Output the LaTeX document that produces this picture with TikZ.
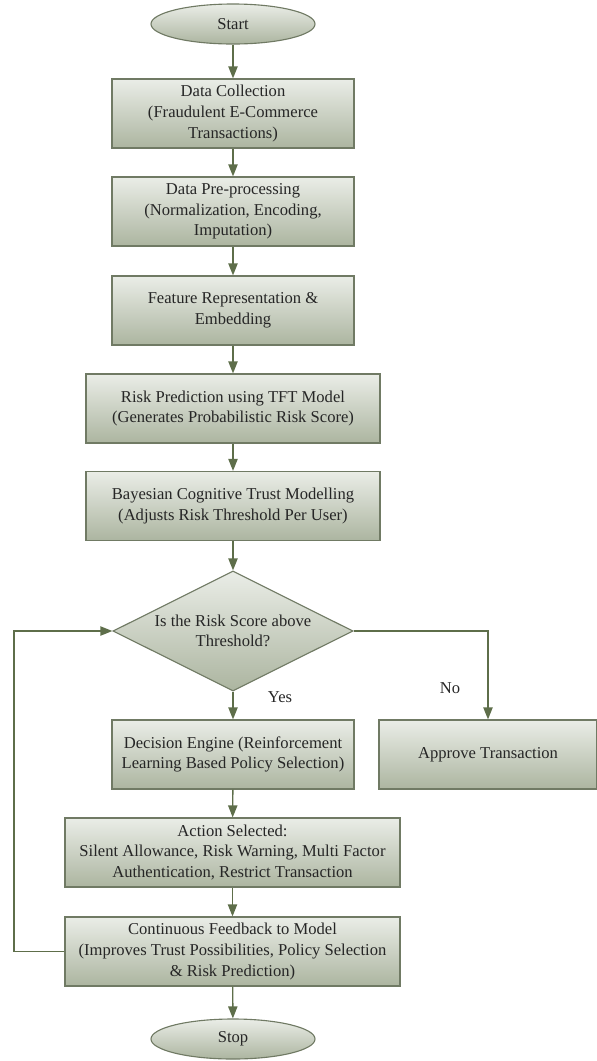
\documentclass[tikz,border=0pt]{standalone}
\usepackage{fontspec}
\setmainfont{Liberation Serif}
\usetikzlibrary{shapes.geometric,arrows.meta}

\definecolor{boxtop}{RGB}{234,237,231}
\definecolor{boxbot}{RGB}{172,181,160}
\definecolor{boxline}{RGB}{112,122,100}
\definecolor{flowline}{RGB}{94,110,74}

\begin{document}
\begin{tikzpicture}[x=0.025cm, y=-0.025cm,
  every node/.style={font=\fontsize{11.8}{14.6}\selectfont, text=black!85},
  procbox/.style={draw=boxline, line width=0.8pt, top color=boxtop, bottom color=boxbot,
    align=center, minimum height=1.725cm, inner sep=2pt},
  termin/.style={ellipse, draw=boxline, line width=0.8pt, top color=boxtop, bottom color=boxbot,
    minimum width=4.1cm, minimum height=1cm, inner sep=0pt},
  query/.style={diamond, aspect=2, draw=boxline, line width=0.8pt, top color=boxtop, bottom color=boxbot,
    minimum width=6cm, minimum height=3cm, inner sep=0pt, align=center},
  flow/.style={draw=flowline, line width=1pt, -{Triangle[length=3mm,width=2.3mm]}}]

\useasboundingbox (0,0) rectangle (597,1061);

\node [termin] (start) at (233,24) {Start};

\node [procbox, minimum width=6.05cm] (collect) at (233,113.5)
  {Data Collection\\(Fraudulent E-Commerce\\Transactions)};
\node [procbox, minimum width=6.05cm] (preproc) at (233,211.5)
  {Data Pre-processing\\(Normalization, Encoding,\\Imputation)};
\node [procbox, minimum width=6.05cm] (feature) at (233,310.5)
  {Feature Representation \&\\Embedding};
\node [procbox, minimum width=7.35cm] (riskpred) at (233,408.5)
  {Risk Prediction using TFT Model\\(Generates Probabilistic Risk Score)};
\node [procbox, minimum width=7.35cm] (trust) at (233,506)
  {Bayesian Cognitive Trust Modelling\\(Adjusts Risk Threshold Per User)};

\node [query] (check) at (233,631) {Is the Risk Score above\\Threshold?};

\node [procbox, minimum width=6.05cm] (decide) at (233,754.5)
  {Decision Engine (Reinforcement\\Learning Based Policy Selection)};
\node [procbox, minimum width=5.45cm] (approve) at (488,754.5) {Approve Transaction};
\node [procbox, minimum width=8.375cm] (action) at (232.5,852.5)
  {Action Selected:\\Silent Allowance, Risk Warning, Multi Factor\\Authentication, Restrict Transaction};
\node [procbox, minimum width=8.375cm] (feedback) at (232.5,951.5)
  {Continuous Feedback to Model\\(Improves Trust Possibilities, Policy Selection\\\& Risk Prediction)};

\node [termin] (stop) at (233,1039) {Stop};

\node (yes) at (280,697) {Yes};
\node (no) at (450,688) {No};

\coordinate (loop) at (14,951.5);

\draw [flow] (start) -- (collect);
\draw [flow] (collect) -- (preproc);
\draw [flow] (preproc) -- (feature);
\draw [flow] (feature) -- (riskpred);
\draw [flow] (riskpred) -- (trust);
\draw [flow] (trust) -- (check);
\draw [flow] (check) -- (decide);
\draw [flow] (check.east) -| (approve.north);
\draw [flow] (decide) -- (action);
\draw [flow] (action) -- (feedback);
\draw [flow] (feedback) -- (stop);
\draw [flow] (feedback.west) -- (loop) |- (check.west);

\end{tikzpicture}
\end{document}
